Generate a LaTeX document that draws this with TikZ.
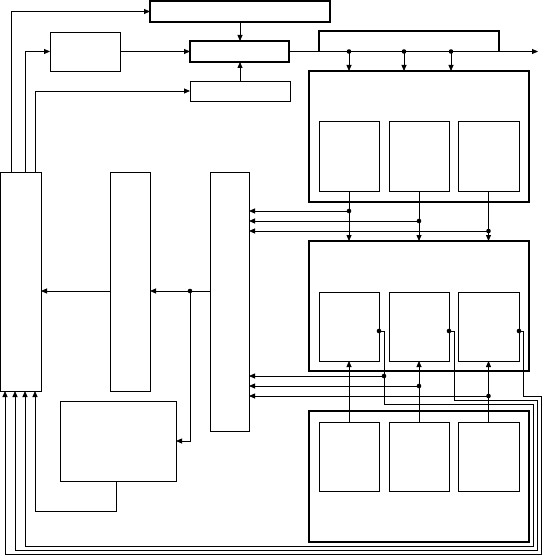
\documentclass[tikz,border=0pt]{standalone}
\usetikzlibrary{arrows.meta,calc}
\begin{document}
\begin{tikzpicture}[x=1pt,y=-1pt,
  box/.style={draw, line width=0.8pt, inner sep=0pt, outer sep=0pt},
  thickbox/.style={box, line width=1.9pt},
  wire/.style={line width=0.8pt},
  arr/.style={wire, -{Triangle[length=6pt,width=5pt]}},
  dot/.style={circle, fill, inner sep=0pt, minimum size=4.6pt}]
\useasboundingbox (0,0) rectangle (544,556);
% boxes
\node[thickbox, minimum width=180pt, minimum height=21pt] (T) at (240,11.5) {};
\node[box, minimum width=70pt, minimum height=39pt] (S) at (85,51.5) {};
\node[thickbox, minimum width=99pt, minimum height=21pt] (M) at (239.5,51.5) {};
\node[box, minimum width=100pt, minimum height=20pt] (L) at (240,91) {};
\node[thickbox, minimum width=180pt, minimum height=20.5pt] (R) at (409,41.25) {};
\node[thickbox, minimum width=220pt, minimum height=131pt] (B1) at (419,136.5) {};
\node[thickbox, minimum width=220pt, minimum height=130pt] (B2) at (419,306) {};
\node[thickbox, minimum width=220pt, minimum height=131pt] (B3) at (419,476.5) {};
\foreach \n/\cx/\w in {a/349/60, b/419/60, c/488.5/61}{
  \node[box, minimum width=\w pt, minimum height=70pt] (\n1) at (\cx,156) {};
  \node[box, minimum width=\w pt, minimum height=69pt] (\n2) at (\cx,326.5) {};
  \node[box, minimum width=\w pt, minimum height=69pt] (\n3) at (\cx,456.5) {};
}
\node[box, minimum width=40.5pt, minimum height=219pt] (LT) at (20.75,281.5) {};
\node[box, minimum width=40pt, minimum height=219pt] (MT) at (130,281.5) {};
\node[box, minimum width=39pt, minimum height=259pt] (CT) at (229.5,301.5) {};
\node[box, minimum width=116pt, minimum height=80pt] (BL) at (118,441) {};
% helper coordinates
\coordinate (x5) at (5,0);
\coordinate (x15) at (15,0);
\coordinate (xa) at (11,0);
\coordinate (xb) at (25,0);
\coordinate (xc) at (35,0);
\coordinate (r1) at (349,0);
\coordinate (r2) at (404,0);
\coordinate (r3) at (451,0);
\coordinate (y211) at (0,211);
\coordinate (y221) at (0,221);
\coordinate (y231) at (0,231);
\coordinate (y376) at (0,376);
\coordinate (y386) at (0,386);
\coordinate (y396) at (0,396);
\coordinate (out) at (538,51.5);
\coordinate (j) at (190,291);
\coordinate (bl) at (116,511);
% top-left feeds
\draw[arr] (LT.north -| xa) |- (T.west);
\draw[arr] (LT.north -| xb) |- (S.west);
\draw[arr] (LT.north -| xc) |- (L.west);
\draw[arr] (S.east) -- (M.west);
\draw[arr] (T.south) -- (T.south |- M.north);
\draw[arr] (L.north) -- (L.north |- M.south);
\draw[arr] (M.east) -- (out);
% R to B1
\foreach \r in {r1,r2,r3}{
  \draw[arr] (R.south -| \r) -- (B1.north -| \r);
  \node[dot] at (R.south -| \r) {};
}
% B1 inner to B2
\foreach \n in {a,b,c}{
  \draw[arr] (\n1.south) -- (\n1.south |- B2.north);
  \draw[arr] (\n3.north) -- (\n2.south);
}
\draw[arr] (a1.south |- y211) -- (CT.east |- y211);
\draw[arr] (b1.south |- y221) -- (CT.east |- y221);
\draw[arr] (c1.south |- y231) -- (CT.east |- y231);
\node[dot] at (a1.south |- y211) {};
\node[dot] at (b1.south |- y221) {};
\node[dot] at (c1.south |- y231) {};
% feedback from B2 inner boxes
\coordinate (fa) at ($(a2.south east)+(0,-30)$);
\coordinate (fb) at ($(b2.south east)+(0,-30)$);
\coordinate (fc) at ($(c2.south east)+(0,-30)$);
\coordinate (fa1) at (384,404);
\coordinate (fa2) at (533,546);
\coordinate (fb1) at (454,400);
\coordinate (fb2) at (537,550);
\coordinate (fc1) at (523,396);
\coordinate (fc2) at (541,554);
\draw[arr] (fa) -| (fa1) -| (fa2) -| (LT.south -| xb);
\draw[arr] (fb) -| (fb1) -| (fb2) -| (LT.south -| x15);
\draw[arr] (fc) -| (fc1) -| (fc2) -| (LT.south -| x5);
\node[dot] at (fa) {};
\node[dot] at (fb) {};
\node[dot] at (fc) {};
\draw[arr] (fa1 |- y376) -- (CT.east |- y376);
\draw[arr] (b3.north |- y386) -- (CT.east |- y386);
\draw[arr] (c3.north |- y396) -- (CT.east |- y396);
\node[dot] at (fa1 |- y376) {};
\node[dot] at (b3.north |- y386) {};
\node[dot] at (c3.north |- y396) {};
% left side
\draw[arr] (CT.west |- j) -- (MT.east |- j);
\draw[arr] (j) |- (BL.east);
\node[dot] at (j) {};
\draw[arr] (MT.west |- j) -- (LT.east |- j);
\draw[arr] (BL.south -| bl) -- (bl) -| (LT.south -| xc);
\end{tikzpicture}
\end{document}
